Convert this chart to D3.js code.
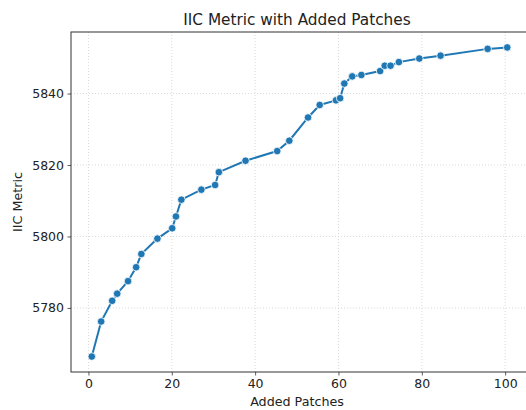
<!DOCTYPE html>
<html>
<head>
<meta charset="utf-8">
<script src="https://cdn.jsdelivr.net/npm/d3@7"></script>
<style>
  body { margin: 0; background: #fff; }
  text { font-family: "DejaVu Sans", sans-serif; fill: #222; }
</style>
</head>
<body>
<div id="chart"></div>
<script>
// added patches (x) and resulting IIC metric (y)
var patches = [0.8, 3.05, 5.7, 6.9, 9.5, 11.45, 12.7, 16.55, 20.1, 21.0, 22.3,
               27.1, 30.4, 31.3, 37.7, 45.3, 48.2, 52.7, 55.5, 59.4, 60.4, 61.4,
               63.3, 65.5, 70.0, 71.1, 72.5, 74.5, 79.4, 84.5, 95.8, 100.5];
var iic = [5766.4, 5776.2, 5782.0, 5784.0, 5787.5, 5791.4, 5795.1, 5799.4, 5802.3,
           5805.6, 5810.3, 5813.1, 5814.4, 5818.0, 5821.2, 5823.9, 5826.8, 5833.3,
           5836.8, 5838.1, 5838.7, 5842.8, 5844.8, 5845.2, 5846.3, 5847.8, 5847.8,
           5848.8, 5849.8, 5850.6, 5852.5, 5852.9];
var xTicks = [0, 20, 40, 60, 80, 100];
var yTicks = [5780, 5800, 5820, 5840];

var W = 526, H = 410;
var m = {left: 71, right: 528, top: 32, bottom: 372};

var svg = d3.select("#chart").append("svg")
  .attr("width", W).attr("height", H);

var data = patches.map(function(d, i){ return {x: d, y: iic[i]}; });

// matplotlib-style 5% margins
var xr = d3.extent(patches), yr = d3.extent(iic);
var xp = (xr[1] - xr[0]) * 0.05, yp = (yr[1] - yr[0]) * 0.05;
var x = d3.scaleLinear().domain([xr[0] - xp, xr[1] + xp]).range([m.left, m.right]);
var y = d3.scaleLinear().domain([yr[0] - yp, yr[1] + yp]).range([m.bottom, m.top]);

// grid
var grid = svg.append("g").attr("stroke", "#d0d0d0").attr("stroke-width", 0.8)
  .attr("stroke-dasharray", "1,2");
grid.selectAll(".gx").data(xTicks).enter().append("line")
  .attr("x1", function(d){ return x(d); }).attr("x2", function(d){ return x(d); })
  .attr("y1", m.top).attr("y2", m.bottom);
grid.selectAll(".gy").data(yTicks).enter().append("line")
  .attr("y1", function(d){ return y(d); }).attr("y2", function(d){ return y(d); })
  .attr("x1", m.left).attr("x2", m.right);

// axes
var xAxis = svg.append("g").attr("transform", "translate(0," + m.bottom + ")")
  .call(d3.axisBottom(x).tickValues(xTicks).tickSize(3.5).tickPadding(3.5));
var yAxis = svg.append("g").attr("transform", "translate(" + m.left + ",0)")
  .call(d3.axisLeft(y).tickValues(yTicks).tickSize(3.5).tickPadding(3.5).tickFormat(d3.format("d")));
[xAxis, yAxis].forEach(function(a){
  a.select(".domain").remove();
  a.selectAll("line").attr("stroke", "#333").attr("stroke-width", 0.8);
  a.selectAll("text").attr("font-size", "12.5px")
    .style("font-family", "DejaVu Sans, sans-serif").attr("fill", "#222");
});

// frame
svg.append("rect")
  .attr("x", m.left).attr("y", m.top)
  .attr("width", m.right - m.left).attr("height", m.bottom - m.top)
  .attr("fill", "none").attr("stroke", "#333").attr("stroke-width", 1);

// line + markers
var line = d3.line().x(function(d){ return x(d.x); }).y(function(d){ return y(d.y); });
svg.append("path").datum(data)
  .attr("d", line).attr("fill", "none")
  .attr("stroke", "#1f77b4").attr("stroke-width", 2);
svg.selectAll(".pt").data(data).enter().append("circle")
  .attr("class", "pt")
  .attr("cx", function(d){ return x(d.x); })
  .attr("cy", function(d){ return y(d.y); })
  .attr("r", 3.8)
  .attr("fill", "#1f77b4").attr("stroke", "#fff").attr("stroke-width", 0.8);

// labels
svg.append("text").attr("x", 297).attr("y", 25)
  .attr("text-anchor", "middle").attr("font-size", "15.3px").text("IIC Metric with Added Patches");
svg.append("text").attr("x", 297).attr("y", 406)
  .attr("text-anchor", "middle").attr("font-size", "12.7px").text("Added Patches");
svg.append("text").attr("transform", "translate(22," + ((m.top + m.bottom) / 2) + ") rotate(-90)")
  .attr("text-anchor", "middle").attr("font-size", "12.7px").text("IIC Metric");
</script>
</body>
</html>
